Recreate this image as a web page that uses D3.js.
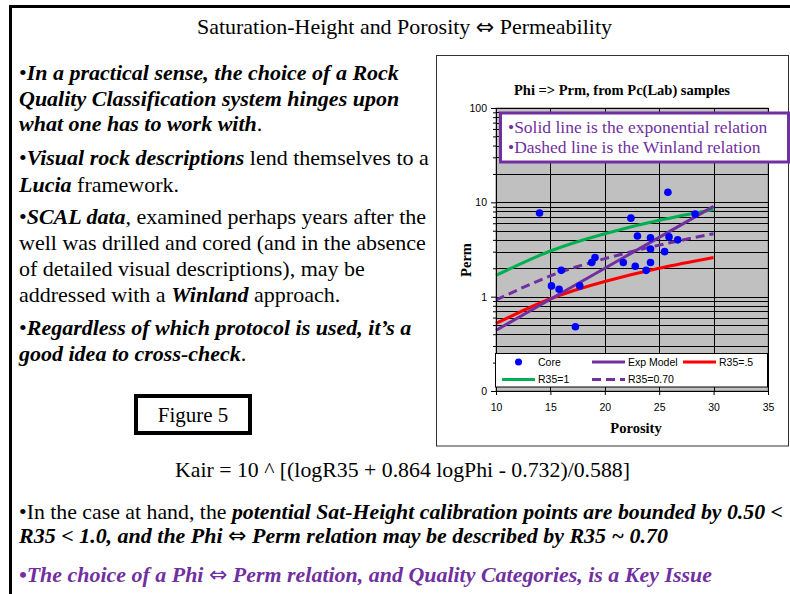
<!DOCTYPE html>
<html>
<head>
<meta charset="utf-8">
<script src="https://cdn.jsdelivr.net/npm/d3@7"></script>
<style>
  body { margin: 0; background: #fff; }
  svg { display: block; }
  .serif { font-family: "Liberation Serif", "Times New Roman", serif; }
  .sans { font-family: "Liberation Sans", Arial, sans-serif; }
</style>
</head>
<body>
<div id="slide"></div>
<script>
// ---- data ----
var corePhi  = [14.0, 25.8, 22.4, 28.3, 23.0, 24.2, 25.9, 26.7, 24.2, 25.5, 19.1, 18.8, 21.7, 24.2, 22.8, 23.8, 16.0, 15.1, 15.8, 17.7, 17.3];
var corePerm = [7.7, 12.8, 6.8, 7.5, 4.4, 4.2, 4.3, 4.0, 3.2, 3.0, 2.6, 2.3, 2.3, 2.3, 2.1, 1.9, 1.9, 1.3, 1.2, 1.3, 0.48];

var curvePhi  = [10, 15, 20, 25, 30];
var expModel  = [0.44, 0.94, 2.0, 4.25, 9.07];
var r35Half   = [0.52, 0.95, 1.45, 2.0, 2.6];
var r35One    = [1.68, 3.05, 4.65, 6.45, 8.4];
var r35Seven  = [0.92, 1.66, 2.53, 3.52, 4.65];

var xTicks = [10, 15, 20, 25, 30, 35];
var yTicks = [0.1, 1, 10, 100];
var yTickLabels = ['0', '1', '10', '100'];
var legendLabels = ['Core', 'Exp Model', 'R35=.5', 'R35=1', 'R35=0.70'];

var chartTitle = 'Phi => Prm, from Pc(Lab) samples';
var noteLines = ['•Solid line is the exponential relation', '•Dashed line is the Winland relation'];

var ARROW = '\u21D4';
// each line: list of [text, style]  (b = bold italic, n = normal, a = arrow glyph)
var slideTitle = [['Saturation-Height and Porosity ', 'n'], [ARROW, 'a'], [' Permeability', 'n']];
var bodyLines = [
  [['•', 'n'], ['In a practical sense, the choice of a Rock', 'b']],
  [['Quality Classification system hinges upon', 'b']],
  [['what one has to work with', 'b'], ['.', 'n']],
  [['•', 'n'], ['Visual rock descriptions', 'b'], [' lend themselves to a', 'n']],
  [['Lucia', 'b'], [' framework.', 'n']],
  [['•', 'n'], ['SCAL data', 'b'], [', examined perhaps years after the', 'n']],
  [['well was drilled and cored (and in the absence', 'n']],
  [['of detailed visual descriptions), may be', 'n']],
  [['addressed with a ', 'n'], ['Winland', 'b'], [' approach.', 'n']],
  [['•', 'n'], ['Regardless of which protocol is used, it\u2019s a', 'b']],
  [['good idea to cross-check', 'b'], ['.', 'n']]
];
var figureLabel = 'Figure 5';
var formula = 'Kair = 10 ^ [(logR35 + 0.864 logPhi - 0.732)/0.588]';
var footLines = [
  [['•In the case at hand, the ', 'n'], ['potential Sat-Height calibration points are bounded by 0.50 <', 'b']],
  [['R35 < 1.0, and the Phi  ', 'b'], [ARROW, 'a'], [' Perm relation may be described by R35 ~ 0.70', 'b']],
  [['•The choice of a Phi  ', 'b'], [ARROW, 'a'], [' Perm relation, and Quality Categories, is a Key Issue', 'b']]
];

var purple = '#7030A0';

var W = 790, H = 594;
var svg = d3.select('#slide').append('svg').attr('width', W).attr('height', H);

function writeLine(sel, parts, color) {
  parts.forEach(function (p) {
    var t = sel.append('tspan').text(p[0]);
    if (p[1] == 'b') t.style('font-weight', 'bold').style('font-style', 'italic');
    if (p[1] == 'a') t.style('font-family', '"DejaVu Sans", sans-serif').style('font-size', '1.0em');
    if (color) t.attr('fill', color);
  });
}

// slide frame
svg.append('line').attr('x1', 9).attr('x2', W).attr('y1', 6.5).attr('y2', 6.5)
  .attr('stroke', '#000').attr('stroke-width', 3);
svg.append('line').attr('x1', 10.5).attr('x2', 10.5).attr('y1', 5).attr('y2', H)
  .attr('stroke', '#000').attr('stroke-width', 3);

var ht = svg.append('text').attr('class', 'serif')
  .attr('x', 197).attr('y', 34)
  .attr('textLength', 415).attr('lengthAdjust', 'spacingAndGlyphs')
  .style('font-size', '21px');
writeLine(ht, slideTitle);

var bodyY = [79.5, 105.5, 131, 165, 191.5, 224, 250, 276, 301.5, 335, 360.5];
bodyLines.forEach(function (ln, i) {
  var t = svg.append('text').attr('class', 'serif')
    .attr('x', 19).attr('y', bodyY[i]).style('font-size', '22px');
  writeLine(t, ln);
});

// figure label box
svg.append('rect').attr('x', 136).attr('y', 396).attr('width', 114).attr('height', 37)
  .attr('fill', '#fff').attr('stroke', '#000').attr('stroke-width', 4);
svg.append('text').attr('class', 'serif').attr('x', 193).attr('y', 422)
  .attr('text-anchor', 'middle').style('font-size', '21px').text(figureLabel);

// formula and footer
svg.append('text').attr('class', 'serif').attr('x', 175).attr('y', 477)
  .attr('textLength', 455).attr('lengthAdjust', 'spacingAndGlyphs')
  .style('font-size', '22px').text(formula);

var footY = [519, 543, 582];
var footW = [764, 649, 693];
footLines.forEach(function (ln, i) {
  var t = svg.append('text').attr('class', 'serif')
    .attr('x', 19).attr('y', footY[i])
    .attr('textLength', footW[i]).attr('lengthAdjust', 'spacingAndGlyphs')
    .style('font-size', '22px');
  writeLine(t, ln, i == 2 ? purple : null);
});

// ---------- chart ----------
svg.append('rect').attr('x', 436.5).attr('y', 55.5).attr('width', 352).attr('height', 390.5)
  .attr('fill', '#fff').attr('stroke', '#333').attr('stroke-width', 1);

var x = d3.scaleLinear().domain([10, 35]).range([496, 768]);
var y = d3.scaleLog().domain([0.1, 100]).range([391, 108]);

var plot = svg.append('g');
plot.append('rect').attr('x', x(10)).attr('y', y(100))
  .attr('width', x(35) - x(10)).attr('height', y(0.1) - y(100))
  .attr('fill', '#C0C0C0').attr('stroke', '#808080');

plot.selectAll('.hgrid').data(y.ticks()).enter().append('line')
  .attr('class', 'hgrid')
  .attr('x1', x(10)).attr('x2', x(35))
  .attr('y1', function (d) { return Math.round(y(d)) + 0.5; })
  .attr('y2', function (d) { return Math.round(y(d)) + 0.5; })
  .attr('stroke', '#000').attr('stroke-width', 1);

plot.selectAll('.vgrid').data(xTicks.slice(1)).enter().append('line')
  .attr('class', 'vgrid')
  .attr('y1', y(100)).attr('y2', y(0.1))
  .attr('x1', function (d) { return Math.round(x(d)) + 0.5; })
  .attr('x2', function (d) { return Math.round(x(d)) + 0.5; })
  .attr('stroke', '#000').attr('stroke-width', 1);

// series lines
var line = d3.line()
  .x(function (d) { return x(d[0]); })
  .y(function (d) { return y(d[1]); })
  .curve(d3.curveNatural);

function series(vals, color, dash) {
  var p = plot.append('path')
    .datum(curvePhi.map(function (v, i) { return [v, vals[i]]; }))
    .attr('d', line).attr('fill', 'none')
    .attr('stroke', color).attr('stroke-width', 3);
  if (dash) p.attr('stroke-dasharray', dash);
}
series(r35One, '#00B050');
series(r35Half, '#FF0000');
series(r35Seven, purple, '9,5');
series(expModel, purple);

plot.selectAll('.dot').data(corePhi).enter().append('circle')
  .attr('class', 'dot')
  .attr('cx', function (d) { return x(d); })
  .attr('cy', function (d, i) { return y(corePerm[i]); })
  .attr('r', 3.8).attr('fill', '#0000FF');

// axes
var yAxis = d3.axisLeft(y).tickValues(yTicks)
  .tickFormat(function (d, i) { return yTickLabels[i]; })
  .tickSize(5).tickPadding(4);
var yMinor = d3.axisLeft(y).tickValues(y.ticks().filter(function (d) { return yTicks.indexOf(d) < 0; }))
  .tickFormat('').tickSize(3);
var xAxis = d3.axisBottom(x).tickValues(xTicks).tickSize(4).tickPadding(9);

var ga = svg.append('g').attr('transform', 'translate(' + x(10) + ',0)').call(yAxis);
svg.append('g').attr('transform', 'translate(' + x(10) + ',0)').call(yMinor)
  .select('.domain').remove();
var gx = svg.append('g').attr('transform', 'translate(0,' + y(0.1) + ')').call(xAxis);
[ga, gx].forEach(function (g) {
  g.selectAll('text').attr('class', 'sans').style('font-size', '10.5px').attr('fill', '#000');
  g.select('.domain').attr('stroke', '#000');
});

// legend
var lg = svg.append('g');
lg.append('rect').attr('x', 495.5).attr('y', 353.5).attr('width', 272).attr('height', 33.5)
  .attr('fill', '#fff').attr('stroke', '#000');
var legendItems = [
  { x: 502, y: 362, type: 'dot', color: '#0000FF' },
  { x: 592, y: 362, type: 'line', color: purple },
  { x: 683, y: 362, type: 'line', color: '#FF0000' },
  { x: 502, y: 379.5, type: 'line', color: '#00B050' },
  { x: 592, y: 379.5, type: 'line', color: purple, dash: '9,5' }
];
legendItems.forEach(function (it, i) {
  if (it.type == 'dot') {
    lg.append('circle').attr('cx', it.x + 16.5).attr('cy', it.y).attr('r', 3.5).attr('fill', it.color);
  } else {
    var l = lg.append('line').attr('x1', it.x).attr('x2', it.x + 33)
      .attr('y1', it.y).attr('y2', it.y).attr('stroke', it.color).attr('stroke-width', 3);
    if (it.dash) l.attr('stroke-dasharray', it.dash);
  }
  lg.append('text').attr('class', 'sans').attr('x', it.x + 36).attr('y', it.y + 3.5)
    .style('font-size', '10.5px').text(legendLabels[i]);
});

// chart titles
svg.append('text').attr('class', 'serif').attr('x', 622).attr('y', 95)
  .attr('text-anchor', 'middle').style('font-size', '14.5px').style('font-weight', 'bold')
  .text(chartTitle);
svg.append('text').attr('class', 'serif').attr('x', 636).attr('y', 433)
  .attr('text-anchor', 'middle').style('font-size', '14.5px').style('font-weight', 'bold')
  .text('Porosity');
svg.append('text').attr('class', 'serif')
  .attr('transform', 'translate(471,260) rotate(-90)')
  .attr('text-anchor', 'middle').style('font-size', '14.5px').style('font-weight', 'bold')
  .text('Perm');

// note box over the plot
svg.append('rect').attr('x', 500.5).attr('y', 113).attr('width', 288).attr('height', 49)
  .attr('fill', '#fff').attr('stroke', purple).attr('stroke-width', 3);
noteLines.forEach(function (s, i) {
  svg.append('text').attr('class', 'serif').attr('x', 508).attr('y', 132.5 + i * 20)
    .attr('fill', purple).style('font-size', '17.5px').text(s);
});
</script>
</body>
</html>
